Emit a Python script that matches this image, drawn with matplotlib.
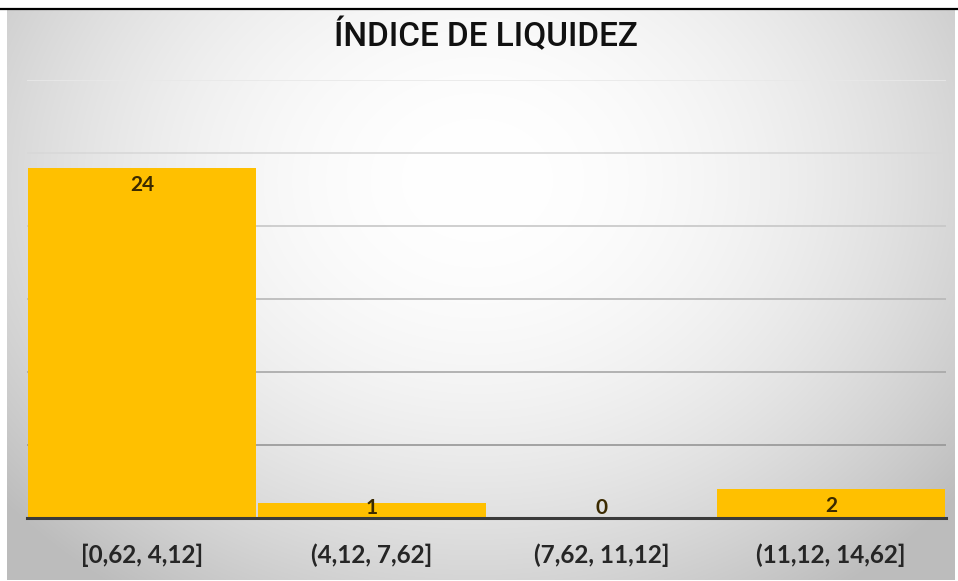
import numpy as np
import matplotlib
matplotlib.use("Agg")
import matplotlib.pyplot as plt

categories = ['[0,62, 4,12]', '(4,12, 7,62]', '(7,62, 11,12]', '(11,12, 14,62]']
counts = [24, 1, 0, 2]
title = 'ÍNDICE DE LIQUIDEZ'

W, H = 958, 581
fig = plt.figure(figsize=(W / 100, H / 100), dpi=100)
fig.patch.set_facecolor('white')

# radial gradient background of the chart area
bx0, by0, bx1, by1 = 7, 10, 955, 580
bg = fig.add_axes([bx0 / W, 1 - by1 / H, (bx1 - bx0) / W, (by1 - by0) / H])
yy, xx = np.mgrid[0:by1 - by0, 0:bx1 - bx0]
r2 = ((xx - 470) / 540.0) ** 2 + ((yy - 170) / 440.0) ** 2
g = np.clip(1.0 - 0.20 * r2, 0.74, 1.0)
bg.imshow(np.dstack([g, g, g]), aspect='auto', interpolation='bilinear')
bg.axis('off')

# top black rule
fig.add_artist(plt.Line2D([0, 1], [1 - 8.5 / H, 1 - 8.5 / H], color='black', lw=1.6))

px0, px1, py_top, py_base = 27, 946, 80, 518
ax = fig.add_axes([px0 / W, 1 - py_base / H, (px1 - px0) / W, (py_base - py_top) / H])
ax.patch.set_alpha(0)
x = np.arange(len(categories))
ax.bar(x, counts, width=0.992, color='#FFC000', zorder=3)
ax.set_xlim(-0.5, len(categories) - 0.5)
ax.set_ylim(0, 30)
ax.set_yticks(np.arange(5, 31, 5))
ax.yaxis.grid(True, lw=1.2, zorder=1)
for val, gl in zip(ax.get_yticks(), ax.get_ygridlines()):
    t = (30 - val) / 25.0
    c = 0.91 - 0.32 * t
    gl.set_color((c, c, c))
ax.tick_params(axis='y', left=False, labelleft=False)
ax.tick_params(axis='x', bottom=False, pad=15)
ax.set_xticks(x)
ax.set_xticklabels(categories, fontsize=17.5, fontweight='bold', color='#262626', family='Lato')
for s in ['top', 'right', 'left']:
    ax.spines[s].set_visible(False)
ax.spines['bottom'].set_color('#3a3a3a')
ax.spines['bottom'].set_linewidth(2.2)
ax.spines['bottom'].set_zorder(4)

for i, v in enumerate(counts):
    if v >= 2:
        ax.annotate(str(v), (i, v), xytext=(0, -5), textcoords='offset points',
                    ha='center', va='top', fontsize=15, fontweight='bold',
                    color='#3b2a00', family='Lato', zorder=5)
    else:
        ax.annotate(str(v), (i, 0), xytext=(0, 0), textcoords='offset points',
                    ha='center', va='bottom', fontsize=15, fontweight='bold',
                    color='#3b2a00', family='Lato', zorder=5)

fig.text(486 / W, 1 - 36 / H, title, ha='center', va='center', fontsize=24,
         fontweight='medium', family=['Roboto', 'DejaVu Sans'], color='#111111')

fig.savefig('out.png', dpi=100)
